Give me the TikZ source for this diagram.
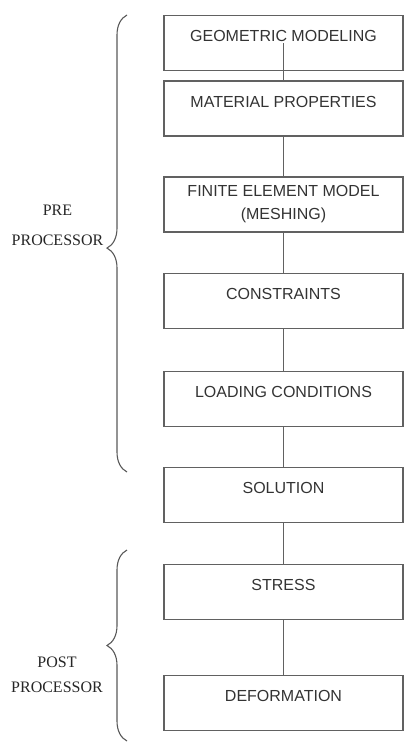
\documentclass[tikz,border=0pt]{standalone}
\usepackage{fontspec}
\setmainfont{Liberation Serif}
\setsansfont{Liberation Sans}
\usetikzlibrary{decorations.pathreplacing}

\begin{document}
\begin{tikzpicture}
[x=1pt,y=-1pt,%
  stage/.style={shape=rectangle,draw=black!62,line width=1.4pt,text=black!80,%
    minimum width=239pt,minimum height=55pt,inner sep=0pt,%
    font=\sffamily\fontsize{16}{23}\selectfont},%
  oneline/.style={stage,text height=12pt,text depth=14.6pt},%
  flowline/.style={draw=black!62,line width=1.3pt},%
  side/.style={text=black!85,align=center,font=\fontsize{16}{25}\selectfont},%
  curly/.style={draw=black!65,line width=1.1pt,decorate,%
    decoration={brace,amplitude=20pt}}]
\useasboundingbox (0,0) rectangle (404,744);
\node[oneline] (geometry) at (283.5,43) {GEOMETRIC MODELING};
\node[oneline] (material) at (283.5,108.5) {MATERIAL PROPERTIES};
\node[stage,align=center] (mesh) at (283.5,204.5) {FINITE ELEMENT MODEL\\(MESHING)};
\node[oneline] (constraints) at (283.5,301) {CONSTRAINTS};
\node[oneline] (loading) at (283.5,399) {LOADING CONDITIONS};
\node[oneline] (solution) at (283.5,495) {SOLUTION};
\node[oneline] (stress) at (283.5,592) {STRESS};
\node[oneline] (deformation) at (283.5,703) {DEFORMATION};
%%
\node[side] (pre) at (57.5,225) {PRE\\[5pt]PROCESSOR};
\node[side] (post) at (57,674.5) {POST\\PROCESSOR};
%%
\draw[curly,decoration={aspect=0.49}] (127,472) -- (127,15);
\draw[curly] (127,741) -- (127,550);
%%
\path (geometry.center) edge[flowline] (material);
\path
\foreach \startNode/\endNode in {material/mesh, mesh/constraints, constraints/loading,%
  loading/solution, solution/stress, stress/deformation}
{
  (\startNode) edge[flowline] (\endNode)
};
\end{tikzpicture}
\end{document}
